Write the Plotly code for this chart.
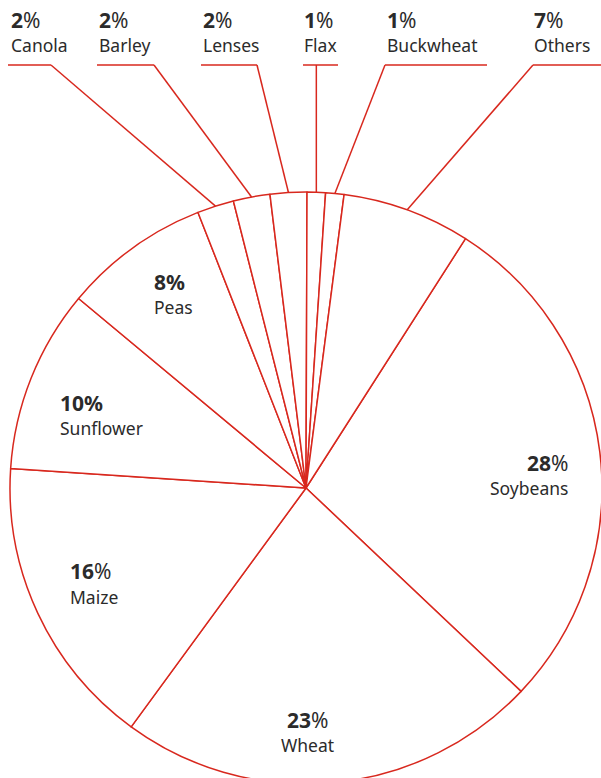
import math
import plotly.graph_objects as go

# ---- data ----
crops = ["Soybeans", "Wheat", "Maize", "Sunflower", "Peas", "Canola",
         "Barley", "Lenses", "Flax", "Buckwheat", "Others"]
shares = [28, 23, 16, 10, 8, 2, 2, 2, 1, 1, 7]
pct_text = ["<b>28</b>%", "<b>23</b>%", "<b>16</b>%", "<b>10%</b>", "<b>8%</b>",
            "<b>2</b>%", "<b>2</b>%", "<b>2</b>%", "<b>1</b>%", "<b>1</b>%", "<b>7</b>%"]

# ---- layout / style ----
W, H = 610, 790
OFF = 0
CX, CY, R = 306, 488, 296
ROT = 32.6
RED = "#d8281e"
INK = "#2b2b2b"
FONT = "Noto Sans"
PCT_SIZE = 21
NAME_SIZE = 17.5

inside_pos = {  # x, anchor, y of pct line, y of name line
    "Soybeans": (570, "right", 463, 488),
    "Wheat": (307, "center", 720, 745),
    "Maize": (68, "left", 571, 597),
    "Sunflower": (58, "left", 403, 428),
    "Peas": (152, "left", 282, 307),
}
outside_pos = {  # text x, horizontal line x0, x1, elbow side
    "Canola": (9, 8, 51, "right"),
    "Barley": (97, 97, 154, "right"),
    "Lenses": (201, 201, 257, "right"),
    "Flax": (302, 303, 338, "vertical"),
    "Buckwheat": (385, 385, 487, "left"),
    "Others": (532, 533, 610, "left"),
}
OUT_PCT_Y, OUT_NAME_Y, OUT_LINE_Y = 20, 45, 65


def px(x):
    return (x - OFF) / W


def py(y):
    return 1 - (y - OFF) / H


fig = go.Figure(go.Pie(
    labels=crops, values=shares, sort=False, direction="clockwise", rotation=ROT,
    marker=dict(colors=["white"] * len(crops), line=dict(color=RED, width=1.5)),
    textinfo="none", hoverinfo="none", showlegend=False,
    domain=dict(x=[px(CX - R), px(CX + R)], y=[py(CY + R), py(CY - R)]),
))

annotations = []
shapes = []
total = sum(shares)
cum = 0
for name, v, pt in zip(crops, shares, pct_text):
    mid = math.radians(ROT + (cum + v / 2) / total * 360)
    cum += v
    if name in inside_pos:
        x, anchor, yp, yn = inside_pos[name]
        annotations.append(dict(x=px(x), y=py(yp), xref="paper", yref="paper", text=pt,
                                showarrow=False, xanchor=anchor, yanchor="middle",
                                font=dict(family=FONT, size=PCT_SIZE, color=INK)))
        annotations.append(dict(x=px(x), y=py(yn), xref="paper", yref="paper", text=name,
                                showarrow=False, xanchor=anchor, yanchor="middle",
                                font=dict(family=FONT, size=NAME_SIZE, color=INK)))
    else:
        tx, x0, x1, side = outside_pos[name]
        annotations.append(dict(x=px(tx), y=py(OUT_PCT_Y), xref="paper", yref="paper", text=pt,
                                showarrow=False, xanchor="left", yanchor="middle",
                                font=dict(family=FONT, size=PCT_SIZE, color=INK)))
        annotations.append(dict(x=px(tx), y=py(OUT_NAME_Y), xref="paper", yref="paper", text=name,
                                showarrow=False, xanchor="left", yanchor="middle",
                                font=dict(family=FONT, size=NAME_SIZE, color=INK)))
        ex_c = CX + R * math.sin(mid)
        ey_c = CY - R * math.cos(mid)
        if side == "right":
            ex = x1
        elif side == "left":
            ex = x0
        else:
            ex = ex_c
        shapes.append(dict(type="line", xref="paper", yref="paper",
                           x0=px(x0), x1=px(x1), y0=py(OUT_LINE_Y), y1=py(OUT_LINE_Y),
                           line=dict(color=RED, width=1.5)))
        shapes.append(dict(type="line", xref="paper", yref="paper",
                           x0=px(ex), x1=px(ex_c), y0=py(OUT_LINE_Y), y1=py(ey_c),
                           line=dict(color=RED, width=1.5)))

fig.update_layout(
    width=W, height=H, margin=dict(l=0, r=0, t=0, b=0),
    paper_bgcolor="white", plot_bgcolor="white",
    annotations=annotations, shapes=shapes,
)
fig.write_html(
    "out.html",
    config=dict(displayModeBar=False),
    post_script="document.body.style.margin='0';document.body.style.overflow='hidden';",
)
